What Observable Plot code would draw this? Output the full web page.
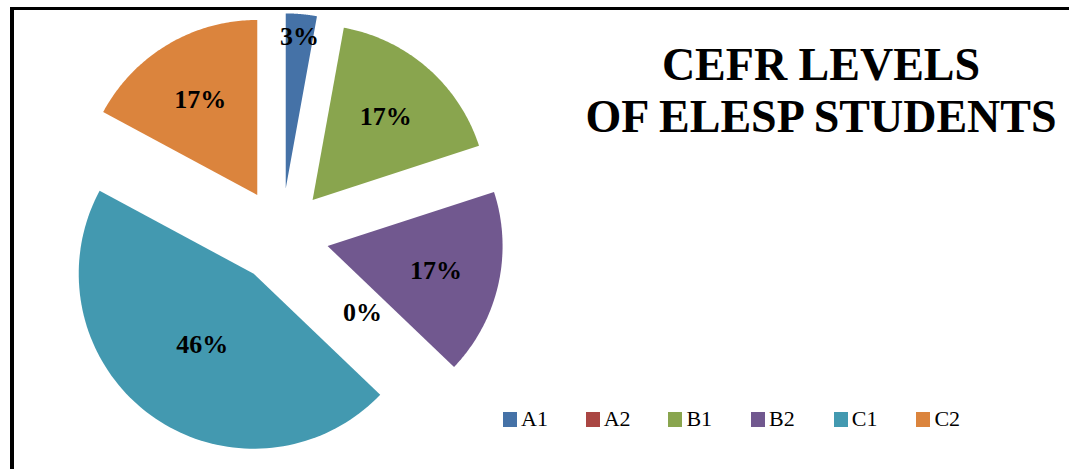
<!DOCTYPE html>
<html>
<head>
<meta charset="utf-8">
<script src="https://cdn.jsdelivr.net/npm/d3@7"></script>
<script src="https://cdn.jsdelivr.net/npm/@observablehq/plot@0.6"></script>
<style>
  html, body { margin: 0; padding: 0; background: #fff; overflow: hidden; }
  #wrap { position: relative; width: 1069px; height: 469px; overflow: hidden; font-family: "Liberation Serif", "Times New Roman", serif; }
  #frame { position: absolute; left: 10px; top: 7px; width: 1200px; height: 600px; border-left: 4px solid #000; border-top: 3px solid #000; box-sizing: border-box; }
  #chart { position: absolute; left: 0; top: 0; }
  #title { position: absolute; left: 571px; width: 500px; top: 39px; text-align: center; font-weight: bold; font-size: 46px; line-height: 52px; color: #000; }
  #legend { position: absolute; left: 503px; top: 407px; display: flex; font-size: 22px; color: #000; }
  .item { width: 82.7px; display: flex; align-items: center; height: 24px; }
  .sw { width: 14px; height: 15px; margin-right: 4px; flex: none; }
</style>
</head>
<body>
<div id="wrap">
  <div id="frame"></div>
  <div id="chart"></div>
  <div id="title">CEFR LEVELS<br>OF ELESP STUDENTS</div>
  <div id="legend"></div>
</div>
<script>
// ---- data ----
const categories = ["A1", "A2", "B1", "B2", "C1", "C2"];
const counts = [1, 0, 6, 6, 16, 6];
const colors = ["#4572A7", "#AA4643", "#89A54E", "#71588F", "#4399B0", "#DB843D"];

// ---- layout ----
const W = 1069, H = 469;
const cx = 281, cy = 235, R = 175;   // pie centre and radius in pixels
const explode = 0.27;                // explosion, in radius units

const total = d3.sum(counts);
const arcs = d3.pie().sort(null).value(d => d)(counts);

// slice outlines (radius units, y pointing down)
const outline = [];
arcs.forEach((a, i) => {
  if (counts[i] === 0) return;
  const mid = (a.startAngle + a.endAngle) / 2;
  const ox = explode * Math.sin(mid), oy = -explode * Math.cos(mid);
  outline.push({cat: categories[i], x: ox, y: oy});
  const n = 90;
  for (let k = 0; k <= n; k++) {
    const t = a.startAngle + (a.endAngle - a.startAngle) * k / n;
    outline.push({cat: categories[i], x: ox + Math.sin(t), y: oy - Math.cos(t)});
  }
  outline.push({cat: categories[i], x: ox, y: oy});
});

// labels: at the centroid of each exploded sector
const largest = d3.maxIndex(counts);
const labels = arcs.map((a, i) => {
  const pct = Math.round(counts[i] / total * 100) + "%";
  let ang, rad;
  if (counts[i] === 0) { ang = arcs[largest].startAngle; rad = 0.64; }
  else {
    ang = (a.startAngle + a.endAngle) / 2;
    const half = (a.endAngle - a.startAngle) / 2;
    const centroid = 2 * Math.sin(half) / (3 * half);
    rad = counts[i] / total < 0.05 ? explode + 0.87 : explode + Math.max(centroid, 0.5);
  }
  return {cat: categories[i], label: pct, x: rad * Math.sin(ang), y: -rad * Math.cos(ang)};
});

const plot = Plot.plot({
  width: W, height: H,
  margin: 0,
  x: {domain: [-cx / R, (W - cx) / R], range: [0, W], axis: null},
  y: {domain: [-cy / R, (H - cy) / R], range: [0, H], axis: null},
  color: {domain: categories, range: colors},
  style: {background: "transparent", overflow: "visible"},
  marks: [
    Plot.line(outline, {x: "x", y: "y", z: "cat", fill: "cat", stroke: "none", curve: "linear"}),
    Plot.text(labels, {x: "x", y: "y", text: "label", fill: "#000", fontSize: 26, fontWeight: "bold",
      fontFamily: "Liberation Serif, Times New Roman, serif", textAnchor: "middle", lineAnchor: "middle"})
  ]
});
document.getElementById("chart").appendChild(plot);

// legend
const lg = document.getElementById("legend");
categories.forEach((c, i) => {
  const it = document.createElement("div");
  it.className = "item";
  it.innerHTML = `<span class="sw" style="background:${colors[i]}"></span><span>${c}</span>`;
  lg.appendChild(it);
});
</script>
</body>
</html>
